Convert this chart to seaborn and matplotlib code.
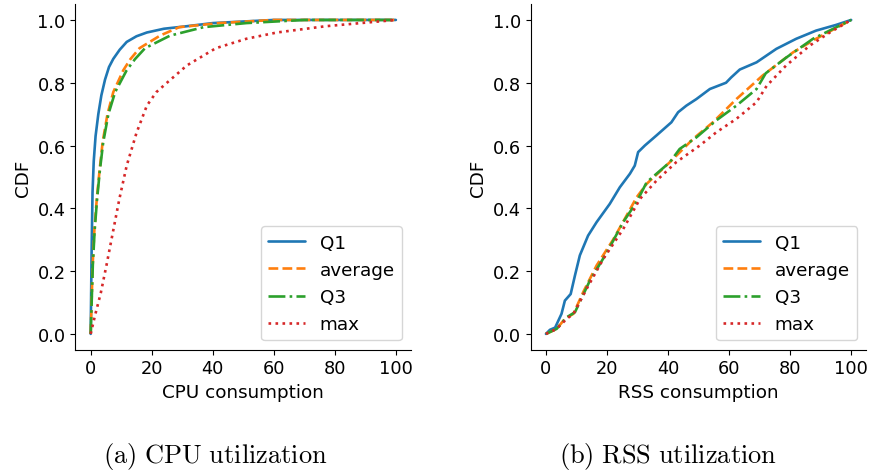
import matplotlib
matplotlib.use("Agg")
import matplotlib.pyplot as plt
import seaborn as sns
import pandas as pd

# ---- CPU utilization CDF data ----
cpu_q1_x = [0, 0.3, 0.6, 1.0, 1.6, 2.5, 3.5, 4.7, 6.0, 7.4, 9.5, 11.8, 15, 18.4, 24, 31.5, 40, 50, 60, 80, 100]
cpu_q1_y = [0, 0.26, 0.45, 0.55, 0.63, 0.70, 0.76, 0.81, 0.85, 0.876, 0.905, 0.93, 0.948, 0.96, 0.972, 0.98, 0.99, 0.995, 1.0, 1.0, 1.0]

cpu_avg_x = [0, 0.65, 1.2, 2.0, 2.9, 3.9, 5.5, 7.4, 10.7, 13, 16, 22.7, 29, 42, 60, 80, 100]
cpu_avg_y = [0, 0.22, 0.33, 0.43, 0.52, 0.61, 0.70, 0.77, 0.84, 0.875, 0.91, 0.95, 0.977, 0.99, 1.0, 1.0, 1.0]

cpu_q3_x = [0, 0.7, 1.3, 2.1, 3.0, 4.1, 5.8, 8.0, 11.8, 14.5, 17.8, 26, 37, 51, 70, 100]
cpu_q3_y = [0, 0.22, 0.33, 0.43, 0.52, 0.61, 0.70, 0.77, 0.84, 0.875, 0.91, 0.95, 0.977, 0.99, 1.0, 1.0]

cpu_max_x = [0, 1.4, 3.3, 5.2, 7.2, 9.4, 11.8, 15, 18.4, 21.5, 25, 31.5, 41, 51, 61, 77, 100]
cpu_max_y = [0, 0.058, 0.13, 0.22, 0.32, 0.43, 0.536, 0.64, 0.727, 0.77, 0.80, 0.855, 0.91, 0.94, 0.96, 0.98, 1.0]

# ---- RSS utilization CDF data ----
rss_q1_x = [0, 1.3, 3, 5.1, 6.2, 8.1, 9.5, 11.1, 13.8, 16.6, 20.9, 24.2, 27.5, 29.1, 30.2, 32.4, 36.2, 41.1, 43.3, 46, 49.3, 53.7, 59, 60.7, 63.5, 69, 75.5, 82, 88.5, 95, 100]
rss_q1_y = [0, 0.013, 0.02, 0.064, 0.106, 0.127, 0.186, 0.25, 0.313, 0.356, 0.414, 0.467, 0.51, 0.536, 0.579, 0.6, 0.632, 0.674, 0.706, 0.727, 0.748, 0.78, 0.80, 0.817, 0.842, 0.865, 0.908, 0.94, 0.966, 0.984, 1.0]

rss_avg_x = [0, 3.5, 6.2, 9, 12.2, 16.6, 22, 25.8, 29.7, 33, 40.6, 48.2, 54.7, 62.4, 71, 81, 88.5, 100]
rss_avg_y = [0, 0.016, 0.048, 0.064, 0.133, 0.218, 0.30, 0.366, 0.435, 0.478, 0.547, 0.621, 0.674, 0.748, 0.823, 0.897, 0.94, 1.0]

rss_q3_x = [0, 3.5, 6.8, 9.5, 14.4, 20, 25.3, 29.7, 33, 40.6, 43.8, 49.3, 55.8, 62.4, 69, 72, 78.7, 87.5, 100]
rss_q3_y = [0, 0.016, 0.053, 0.069, 0.17, 0.26, 0.356, 0.42, 0.483, 0.547, 0.589, 0.626, 0.68, 0.727, 0.78, 0.83, 0.88, 0.94, 1.0]

rss_max_x = [0, 3.5, 6.8, 9, 13.3, 18.8, 25.3, 30.8, 36.2, 42.7, 50.4, 55.8, 62.4, 69, 72.3, 78.7, 86.4, 93, 100]
rss_max_y = [0, 0.016, 0.048, 0.064, 0.143, 0.239, 0.334, 0.43, 0.488, 0.547, 0.60, 0.642, 0.685, 0.738, 0.79, 0.855, 0.918, 0.96, 1.0]

series_names = ["Q1", "average", "Q3", "max"]
colors = ["#1f77b4", "#ff7f0e", "#2ca02c", "#d62728"]
styles = ["-", "--", "-.", ":"]

cpu_data = [(cpu_q1_x, cpu_q1_y), (cpu_avg_x, cpu_avg_y), (cpu_q3_x, cpu_q3_y), (cpu_max_x, cpu_max_y)]
rss_data = [(rss_q1_x, rss_q1_y), (rss_avg_x, rss_avg_y), (rss_q3_x, rss_q3_y), (rss_max_x, rss_max_y)]

sns.set_style("ticks")
plt.rcParams["font.family"] = ["DejaVu Sans"]
plt.rcParams["mathtext.fontset"] = "cm"
for k in ["text.color", "axes.labelcolor", "xtick.color", "ytick.color", "axes.edgecolor"]:
    plt.rcParams[k] = "black"

fig = plt.figure(figsize=(8.72, 4.77), dpi=100)
ax1 = fig.add_axes([0.0865, 0.265, 0.385, 0.724])
ax2 = fig.add_axes([0.6086, 0.265, 0.385, 0.724])

def draw(ax, data, xlabel):
    for name, (xs, ys), c, ls in zip(series_names, data, colors, styles):
        df = pd.DataFrame({"x": xs, "y": ys})
        sns.lineplot(data=df, x="x", y="y", ax=ax, color=c, linestyle=ls,
                     linewidth=1.9, label=name, sort=False, estimator=None)
    ax.set_xlim(-5, 105)
    ax.set_ylim(-0.05, 1.05)
    ax.set_xticks([0, 20, 40, 60, 80, 100])
    ax.set_yticks([0.0, 0.2, 0.4, 0.6, 0.8, 1.0])
    ax.set_yticklabels(["0.0", "0.2", "0.4", "0.6", "0.8", "1.0"])
    ax.tick_params(labelsize=12.8)
    ax.set_xlabel(xlabel, fontsize=13.2)
    ax.set_ylabel("CDF", fontsize=13.2)
    sns.despine(ax=ax)
    ax.legend(loc="lower right", fontsize=13.2, frameon=True)

draw(ax1, cpu_data, "CPU consumption")
draw(ax2, rss_data, "RSS consumption")

fig.text(0.2464, 0.03, r"$\mathrm{(a)\ CPU\ utilization}$", ha="center", va="baseline", fontsize=19)
fig.text(0.7655, 0.03, r"$\mathrm{(b)\ RSS\ utilization}$", ha="center", va="baseline", fontsize=19)

fig.savefig("out.png", dpi=100)
